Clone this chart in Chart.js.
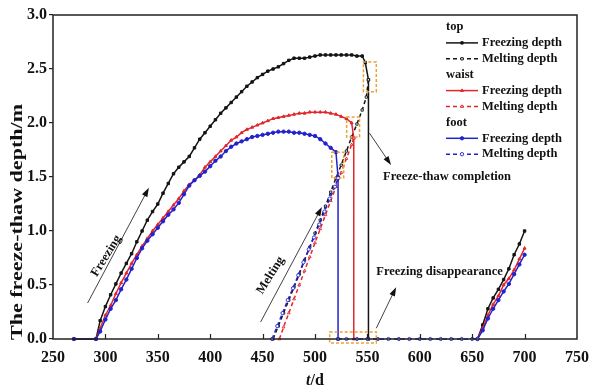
<!DOCTYPE html>
<html>
<head>
<meta charset="utf-8">
<script src="https://cdn.jsdelivr.net/npm/chart.js@4.4.0/dist/chart.umd.min.js"></script>
<style>
  html, body { margin: 0; padding: 0; background: #fff; }
  #wrap { width: 598px; height: 392px; position: relative; }
</style>
</head>
<body>
<div id="wrap"><canvas id="chart"></canvas></div>
<script>
// top (black)
const topFreezeDays = [270, 291, 295, 300, 305, 310, 315, 320, 325, 330, 335, 340, 345, 350, 355, 360, 365, 370, 375, 380, 385, 390, 395, 400, 405, 410, 415, 420, 425, 430, 435, 440, 445, 450, 455, 460, 465, 470, 475, 480, 485, 490, 495, 500, 505, 510, 515, 520, 525, 530, 535, 540, 545, 548, 551, 551, 600, 655, 660, 665, 670, 675, 680, 685, 690, 695, 700];
const topFreezeDepth = [0, 0, 0.17, 0.30, 0.41, 0.51, 0.61, 0.70, 0.79, 0.90, 1.00, 1.10, 1.18, 1.25, 1.35, 1.44, 1.53, 1.59, 1.64, 1.69, 1.77, 1.85, 1.91, 1.97, 2.03, 2.09, 2.14, 2.19, 2.24, 2.29, 2.34, 2.38, 2.42, 2.45, 2.48, 2.50, 2.52, 2.55, 2.58, 2.60, 2.60, 2.60, 2.61, 2.62, 2.63, 2.63, 2.63, 2.63, 2.63, 2.63, 2.63, 2.62, 2.62, 2.56, 2.40, 0, null, 0, 0.13, 0.28, 0.38, 0.46, 0.55, 0.65, 0.78, 0.88, 1.00];
const topMeltDays = [460, 465, 470, 475, 480, 485, 490, 495, 500, 505, 510, 515, 520, 525, 530, 535, 540, 545, 549, 551];
const topMeltDepth = [0, 0.12, 0.24, 0.36, 0.48, 0.60, 0.73, 0.85, 0.98, 1.10, 1.23, 1.36, 1.49, 1.61, 1.74, 1.87, 1.99, 2.12, 2.24, 2.40];

// waist (red)
const waistFreezeDays = [270, 291, 295, 300, 305, 310, 315, 320, 325, 330, 335, 340, 345, 350, 355, 360, 365, 370, 375, 380, 385, 390, 395, 400, 405, 410, 415, 420, 425, 430, 435, 440, 445, 450, 455, 460, 465, 470, 475, 480, 485, 490, 495, 500, 505, 510, 515, 520, 525, 530, 535, 537, 537, 600, 655, 660, 665, 670, 675, 680, 685, 690, 695, 700];
const waistFreezeDepth = [0, 0, 0.10, 0.22, 0.31, 0.42, 0.52, 0.61, 0.70, 0.78, 0.86, 0.93, 1.00, 1.06, 1.12, 1.18, 1.24, 1.30, 1.37, 1.43, 1.47, 1.52, 1.59, 1.64, 1.69, 1.74, 1.79, 1.84, 1.87, 1.91, 1.94, 1.96, 1.98, 2.00, 2.02, 2.04, 2.05, 2.06, 2.07, 2.08, 2.09, 2.09, 2.10, 2.10, 2.10, 2.10, 2.09, 2.08, 2.06, 2.04, 2.00, 1.86, 0, null, 0, 0.10, 0.22, 0.32, 0.40, 0.50, 0.56, 0.64, 0.74, 0.84];
const waistMeltDays = [466, 470, 475, 480, 485, 490, 495, 500, 505, 510, 515, 520, 525, 530, 535, 537];
const waistMeltDepth = [0, 0.11, 0.24, 0.37, 0.50, 0.63, 0.76, 0.89, 1.02, 1.15, 1.28, 1.41, 1.54, 1.67, 1.80, 1.86];

// foot (blue)
const footFreezeDays = [270, 291, 295, 300, 305, 310, 315, 320, 325, 330, 335, 340, 345, 350, 355, 360, 365, 370, 375, 380, 385, 390, 395, 400, 405, 410, 415, 420, 425, 430, 435, 440, 445, 450, 455, 460, 465, 470, 475, 480, 485, 490, 495, 500, 505, 510, 515, 520, 522, 522, 600, 655, 660, 665, 670, 675, 680, 685, 690, 695, 700];
const footFreezeDepth = [0, 0, 0.07, 0.18, 0.28, 0.36, 0.46, 0.55, 0.65, 0.75, 0.84, 0.91, 0.97, 1.03, 1.09, 1.15, 1.20, 1.26, 1.34, 1.42, 1.47, 1.51, 1.55, 1.60, 1.65, 1.69, 1.74, 1.78, 1.81, 1.83, 1.85, 1.87, 1.88, 1.89, 1.90, 1.91, 1.92, 1.92, 1.92, 1.91, 1.91, 1.90, 1.89, 1.88, 1.85, 1.81, 1.77, 1.73, 1.50, 0, null, 0, 0.08, 0.19, 0.28, 0.36, 0.44, 0.51, 0.60, 0.69, 0.78];
const footMeltDays = [459, 464, 469, 474, 479, 484, 489, 494, 499, 504, 509, 514, 519, 522, 522, 522, 530, 540, 550, 560, 570, 580, 590, 600, 610, 620, 630, 640, 650, 655];
const footMeltDepth = [0, 0.12, 0.24, 0.36, 0.47, 0.59, 0.71, 0.83, 0.94, 1.06, 1.18, 1.30, 1.41, 1.49, null, 0, 0, 0, 0, 0, 0, 0, 0, 0, 0, 0, 0, 0, 0, 0];

const xTicks = [250, 300, 350, 400, 450, 500, 550, 600, 650, 700, 750];
const yTicks = [0, 0.5, 1.0, 1.5, 2.0, 2.5, 3.0];

const SERIF = '"Liberation Serif", "Times New Roman", serif';
const BLACK = '#141414', RED = '#e3262b', BLUE = '#2222cc', ORANGE = '#eea034';

function pts(days, vals) {
  return days.map((d, i) => ({ x: d, y: vals[i] }));
}

function freezeSet(label, days, vals, color, style) {
  return {
    label, data: pts(days, vals),
    borderColor: color, backgroundColor: color,
    borderWidth: 1.5, pointStyle: style, pointRadius: 1.7, pointBorderWidth: 1,
    pointBackgroundColor: color, spanGaps: false, clip: false
  };
}
function meltSet(label, days, vals, color, style) {
  return {
    label, data: pts(days, vals),
    borderColor: color, backgroundColor: '#fff',
    borderWidth: 1.5, borderDash: [4, 3], pointStyle: style, pointRadius: 1.6,
    pointBorderWidth: 0.9, pointBackgroundColor: '#fff', spanGaps: false, clip: false
  };
}

function arrow(ctx, x1, y1, x2, y2) {
  const a = Math.atan2(y2 - y1, x2 - x1);
  ctx.save();
  ctx.strokeStyle = '#111';
  ctx.fillStyle = '#111';
  ctx.lineWidth = 0.8;
  ctx.beginPath();
  ctx.moveTo(x1, y1);
  ctx.lineTo(x2 - 6 * Math.cos(a), y2 - 6 * Math.sin(a));
  ctx.stroke();
  ctx.translate(x2, y2);
  ctx.rotate(a);
  ctx.beginPath();
  ctx.moveTo(0, 0);
  ctx.lineTo(-9, -3);
  ctx.lineTo(-9, 3);
  ctx.closePath();
  ctx.fill();
  ctx.restore();
}

// frame, inner x ticks, orange boxes, arrows, notes, titles, legend
const decorations = {
  id: 'decorations',
  afterDatasetsDraw(chart) {
    const { ctx, scales: { x, y } } = chart;
    const px = v => x.getPixelForValue(v), py = v => y.getPixelForValue(v);

    // orange dashed boxes
    ctx.save();
    ctx.strokeStyle = ORANGE;
    ctx.lineWidth = 1.5;
    ctx.setLineDash([3, 2]);
    [[546.2, 558.5, 2.29, 2.565], [530.2, 542.5, 1.87, 2.056], [516, 527.4, 1.49, 1.73], [514, 558.5, -0.037, 0.065]]
      .forEach(b => {
        ctx.strokeRect(px(b[0]), py(b[3]), px(b[1]) - px(b[0]), py(b[2]) - py(b[3]));
      });
    ctx.restore();

    arrow(ctx, px(283), py(0.333), px(341.5), py(1.40));
    arrow(ctx, px(448.1), py(0.157), px(506.6), py(1.222));
    arrow(ctx, px(551.9), py(1.907), px(572.6), py(1.611));
    arrow(ctx, px(558.5), py(0.10), px(577.4), py(0.48));

    ctx.save();
    ctx.fillStyle = '#111';
    ctx.font = 'bold 12.5px ' + SERIF;
    ctx.textBaseline = 'middle';
    ctx.textAlign = 'left';
    ctx.fillText('Freeze-thaw completion', px(565), py(1.5));
    ctx.fillText('Freezing disappearance', px(558.5), py(0.62));
    ctx.textAlign = 'center';
    [['Freezing', 300.9, 0.77], ['Melting', 457.5, 0.59]].forEach(t => {
      ctx.save();
      ctx.translate(px(t[1]), py(t[2]));
      ctx.rotate(-58 * Math.PI / 180);
      ctx.fillText(t[0], 0, 0);
      ctx.restore();
    });
    ctx.restore();
  },
  afterDraw(chart) {
    const { ctx, chartArea: ca, scales: { x } } = chart;
    ctx.save();
    ctx.strokeStyle = '#222';
    ctx.lineWidth = 1.5;
    ctx.strokeRect(ca.left, ca.top, ca.right - ca.left, ca.bottom - ca.top);
    ctx.lineWidth = 1.2;
    xTicks.slice(1, -1).forEach(v => {
      const xx = Math.round(x.getPixelForValue(v)) + 0.5;
      ctx.beginPath();
      ctx.moveTo(xx, ca.bottom);
      ctx.lineTo(xx, ca.bottom - 5);
      ctx.stroke();
    });
    ctx.restore();

    // axis titles
    ctx.save();
    ctx.fillStyle = '#111';
    ctx.textBaseline = 'middle';
    ctx.font = 'bold 16px ' + SERIF;
    const yt = 'The freeze-thaw depth/m';
    const w = ctx.measureText(yt).width;
    ctx.translate(18, 222);
    ctx.rotate(-Math.PI / 2);
    ctx.scale(236 / w, 1);
    ctx.textAlign = 'center';
    ctx.fillText(yt, 0, 0);
    ctx.restore();

    ctx.save();
    ctx.fillStyle = '#111';
    ctx.textBaseline = 'middle';
    ctx.font = 'italic bold 16px ' + SERIF;
    const tw = ctx.measureText('t').width;
    ctx.font = 'bold 16px ' + SERIF;
    const dw = ctx.measureText('/d').width;
    const cx = (ca.left + ca.right) / 2 - (tw + dw) / 2;
    ctx.font = 'italic bold 16px ' + SERIF;
    ctx.fillText('t', cx, 381);
    ctx.font = 'bold 16px ' + SERIF;
    ctx.fillText('/d', cx + tw, 381);
    ctx.restore();

    // legend
    const rows = [
      ['head', 'top'],
      ['item', 'Freezing depth', BLACK, false, 'rect'],
      ['item', 'Melting depth', BLACK, true, 'rect'],
      ['head', 'waist'],
      ['item', 'Freezing depth', RED, false, 'triangle'],
      ['item', 'Melting depth', RED, true, 'triangle'],
      ['head', 'foot'],
      ['item', 'Freezing depth', BLUE, false, 'circle'],
      ['item', 'Melting depth', BLUE, true, 'circle']
    ];
    const x0 = ca.right - 131;
    ctx.save();
    ctx.font = 'bold 12.5px ' + SERIF;
    ctx.textBaseline = 'middle';
    ctx.fillStyle = '#111';
    rows.forEach((r, i) => {
      const yy = ca.top + 12 + i * 15.9;
      if (r[0] === 'head') {
        ctx.fillStyle = '#111';
        ctx.fillText(r[1], x0, yy);
        return;
      }
      ctx.save();
      ctx.strokeStyle = r[2];
      ctx.lineWidth = 1.5;
      ctx.setLineDash(r[3] ? [4, 3] : []);
      ctx.beginPath();
      ctx.moveTo(x0, yy);
      ctx.lineTo(x0 + 32, yy);
      ctx.stroke();
      ctx.setLineDash([]);
      ctx.fillStyle = r[3] ? '#fff' : r[2];
      ctx.lineWidth = 0.9;
      Chart.helpers.drawPoint(ctx, { pointStyle: r[4], radius: 1.7, borderWidth: 0.9 }, x0 + 16, yy);
      ctx.restore();
      ctx.fillStyle = '#111';
      ctx.fillText(r[1], x0 + 36, yy);
    });
    ctx.restore();
  }
};

new Chart(document.getElementById('chart'), {
  type: 'line',
  data: {
    datasets: [
      meltSet('foot Melting depth', footMeltDays, footMeltDepth, BLUE, 'circle'),
      freezeSet('foot Freezing depth', footFreezeDays, footFreezeDepth, BLUE, 'circle'),
      meltSet('waist Melting depth', waistMeltDays, waistMeltDepth, RED, 'triangle'),
      freezeSet('waist Freezing depth', waistFreezeDays, waistFreezeDepth, RED, 'triangle'),
      meltSet('top Melting depth', topMeltDays, topMeltDepth, BLACK, 'rect'),
      freezeSet('top Freezing depth', topFreezeDays, topFreezeDepth, BLACK, 'rect')
    ]
  },
  options: {
    responsive: true,
    maintainAspectRatio: false,
    animation: false,
    layout: { padding: { left: 0, right: 15, top: 15, bottom: 0 } },
    plugins: { legend: { display: false }, tooltip: { enabled: false } },
    scales: {
      x: {
        type: 'linear', min: 250, max: 750,
        afterBuildTicks: s => { s.ticks = xTicks.map(v => ({ value: v })); },
        afterFit: s => { s.height = 53; },
        grid: { display: false, drawTicks: false },
        border: { display: false },
        ticks: { padding: 9, color: '#111', font: { family: SERIF, size: 16, weight: 'bold' }, maxRotation: 0 }
      },
      y: {
        min: 0, max: 3,
        afterBuildTicks: s => { s.ticks = yTicks.map(v => ({ value: v })); },
        afterFit: s => { s.width = 53; },
        grid: { drawOnChartArea: false, drawTicks: true, tickLength: 4, color: '#222', lineWidth: 1.2 },
        border: { display: false },
        ticks: {
          padding: 2, color: '#111', font: { family: SERIF, size: 16, weight: 'bold' },
          callback: v => v.toFixed(1)
        }
      }
    }
  },
  plugins: [decorations]
});
</script>
</body>
</html>
